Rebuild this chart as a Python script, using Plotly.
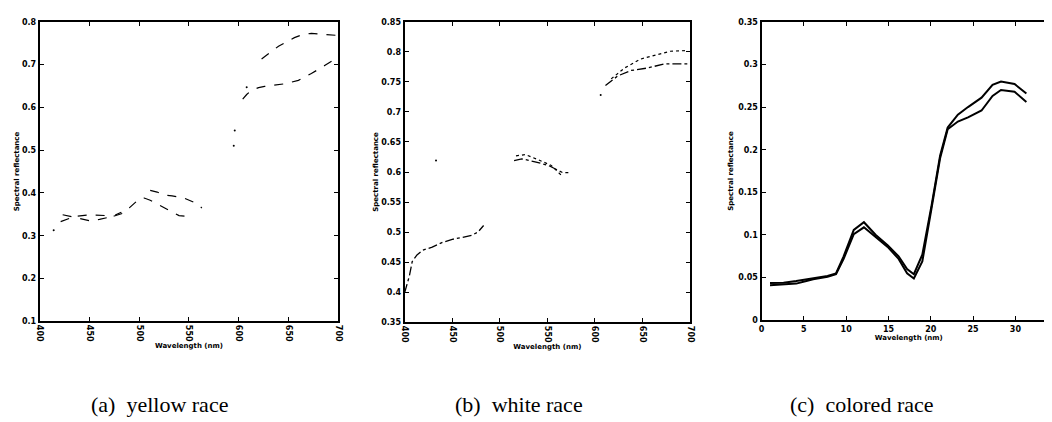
import plotly.graph_objects as go

# ---------- Panel (a): yellow race ----------
a_wl_1 = [421, 435, 450, 463, 475, 483, 490, 500, 505, 511, 520, 530, 540, 550, None,
          604, 608, 613, 620, 626, 636, 646, 660, 673, 686, 698]
a_val_1 = [0.333, 0.345, 0.349, 0.347, 0.346, 0.352, 0.365, 0.386, 0.388, 0.383, 0.372, 0.360, 0.347, 0.345, None,
           0.619, 0.630, 0.640, 0.646, 0.649, 0.652, 0.655, 0.663, 0.679, 0.697, 0.715]
a_wl_2 = [423, 435, 450, 460, 473, 482, None, 511, 518, 525, 533, 545, 555, 563, None,
          623, 630, 640, 656, 664, 673, 686, 700]
a_val_2 = [0.349, 0.342, 0.335, 0.338, 0.345, 0.355, None, 0.406, 0.402, 0.395, 0.393, 0.388, 0.378, 0.365, None,
           0.713, 0.726, 0.743, 0.763, 0.770, 0.773, 0.770, 0.768]
a_pts_wl = [414, 595, 596, 608]
a_pts_val = [0.313, 0.510, 0.546, 0.647]

# ---------- Panel (b): white race ----------
b_wl_1 = [400, 405, 408, 413, 419, 429, 440, 450, 460, 471, 477, 483, None,
          515, 523, 537, 551, 561, 566, 572, None,
          611, 617, 624, 638, 655, 673, 697]
b_val_1 = [0.399, 0.427, 0.451, 0.462, 0.470, 0.475, 0.483, 0.488, 0.491, 0.495, 0.500, 0.511, None,
           0.619, 0.622, 0.617, 0.611, 0.603, 0.599, 0.599, None,
           0.744, 0.752, 0.760, 0.769, 0.773, 0.780, 0.780]
b_wl_2 = [517, 527, 541, 554, 565, None, 617, 631, 648, 666, 679, 695]
b_val_2 = [0.627, 0.629, 0.620, 0.611, 0.594, None, 0.755, 0.773, 0.788, 0.796, 0.801, 0.802]
b_pts_wl = [433, 606]
b_pts_val = [0.619, 0.728]

# ---------- Panel (c): colored race ----------
c_x = [1, 2.6, 4.1, 5.3, 6.1, 7.8, 8.8, 9.7, 10.9, 12.1, 13.5, 14.9, 16.2, 17.2, 18.0,
       19.0, 20.1, 21.1, 22.0, 23.2, 24.4, 26.0, 27.3, 28.3, 29.9, 31.3]
c_upper = [0.0436, 0.044, 0.046, 0.048, 0.049, 0.052, 0.055, 0.075, 0.106, 0.115, 0.100, 0.088, 0.075, 0.060, 0.054,
           0.077, 0.135, 0.193, 0.226, 0.241, 0.250, 0.261, 0.276, 0.280, 0.277, 0.266]
c_lower = [0.041, 0.042, 0.043, 0.046, 0.048, 0.051, 0.054, 0.072, 0.101, 0.109, 0.097, 0.086, 0.072, 0.055, 0.049,
           0.069, 0.132, 0.190, 0.224, 0.233, 0.238, 0.246, 0.263, 0.270, 0.268, 0.256]

a_ticks = [400, 450, 500, 550, 600, 650, 700]
a_yticks = [0.1, 0.2, 0.3, 0.4, 0.5, 0.6, 0.7, 0.8]
b_yticks = [0.35, 0.4, 0.45, 0.5, 0.55, 0.6, 0.65, 0.7, 0.75, 0.8, 0.85]
c_xticks = [0, 5, 10, 15, 20, 25, 30, 35]
c_yticks = [0, 0.05, 0.1, 0.15, 0.2, 0.25, 0.3, 0.35]

captions = ["(a)  yellow race", "(b)  white race", "(c)  colored race"]

W, H = 1052, 422
fig = go.Figure()

fig.add_trace(go.Scatter(x=a_wl_1, y=a_val_1, mode="lines", line=dict(color="black", width=1.2, dash="dash"),
                         xaxis="x", yaxis="y", connectgaps=False))
fig.add_trace(go.Scatter(x=a_wl_2, y=a_val_2, mode="lines", line=dict(color="black", width=1.2, dash="dash"),
                         xaxis="x", yaxis="y", connectgaps=False))
fig.add_trace(go.Scatter(x=a_pts_wl, y=a_pts_val, mode="markers", marker=dict(color="black", size=2),
                         xaxis="x", yaxis="y"))

fig.add_trace(go.Scatter(x=b_wl_1, y=b_val_1, mode="lines", line=dict(color="black", width=1.3, dash="dashdot"),
                         xaxis="x2", yaxis="y2", connectgaps=False))
fig.add_trace(go.Scatter(x=b_wl_2, y=b_val_2, mode="lines", line=dict(color="black", width=1.2, dash="dot"),
                         xaxis="x2", yaxis="y2", connectgaps=False))
fig.add_trace(go.Scatter(x=b_pts_wl, y=b_pts_val, mode="markers", marker=dict(color="black", size=2),
                         xaxis="x2", yaxis="y2"))

fig.add_trace(go.Scatter(x=c_x, y=c_upper, mode="lines", line=dict(color="black", width=2),
                         xaxis="x3", yaxis="y3"))
fig.add_trace(go.Scatter(x=c_x, y=c_lower, mode="lines", line=dict(color="black", width=2),
                         xaxis="x3", yaxis="y3"))

tickfont = dict(family="DejaVu Sans", size=8, color="black", weight="bold")
titlefont = dict(family="DejaVu Sans", size=7, color="black", weight="bold")
common = dict(showgrid=False, zeroline=False, showline=True, linecolor="black", linewidth=2,
              mirror="allticks", ticks="inside", ticklen=4, tickcolor="black", tickfont=tickfont)

def px_x(a, b):
    return [a / W, b / W]

def px_y(top, bottom):
    return [1 - bottom / H, 1 - top / H]

fig.update_layout(
    width=W, height=H, margin=dict(l=0, r=0, t=0, b=0),
    paper_bgcolor="white", plot_bgcolor="white", showlegend=False,
    xaxis=dict(domain=px_x(27, 328), range=[400, 700], tickvals=a_ticks, tickangle=90,
               anchor="y", title=dict(text="Wavelength (nm)", font=titlefont, standoff=2), **common),
    yaxis=dict(domain=px_y(10, 316), range=[0.1, 0.8], tickvals=a_yticks, anchor="x",
               title=dict(text="Spectral reflectance", font=titlefont, standoff=2), **common),
    xaxis2=dict(domain=px_x(395, 683), range=[400, 700], tickvals=a_ticks, tickangle=90,
                anchor="y2", title=dict(text="Wavelength (nm)", font=titlefont, standoff=2), **common),
    yaxis2=dict(domain=px_y(10, 317), range=[0.35, 0.85], tickvals=b_yticks, anchor="x2",
                title=dict(text="Spectral reflectance", font=titlefont, standoff=2), **common),
    xaxis3=dict(domain=px_x(755, 1052), range=[0, 34.8], tickvals=c_xticks,
                anchor="y3", title=dict(text="Wavelength (nm)", font=titlefont, standoff=2), **common),
    yaxis3=dict(domain=px_y(10, 315), range=[0, 0.35], tickvals=c_yticks, anchor="x3",
                title=dict(text="Spectral reflectance", font=titlefont, standoff=4), **common),
)

cap_x = [148, 510, 856]
for cx, txt in zip(cap_x, captions):
    fig.add_annotation(x=cx / W, y=1 - 401 / H, xref="paper", yref="paper", text=txt, showarrow=False,
                       font=dict(family="Liberation Serif", size=22, color="black"),
                       xanchor="center", yanchor="middle")

fig.write_html("out.html")
